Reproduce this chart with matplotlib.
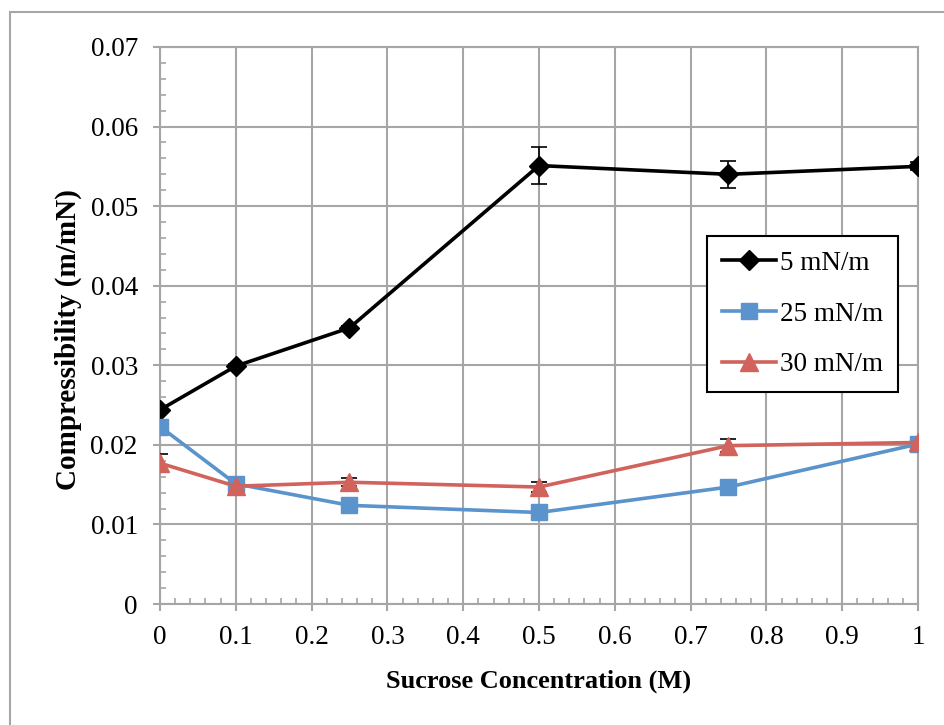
import numpy as np
from matplotlib import pyplot as plt
from matplotlib.patches import Rectangle
from matplotlib.lines import Line2D
from matplotlib.ticker import MultipleLocator

# sucrose concentration (M)
conc = [0, 0.1, 0.25, 0.5, 0.75, 1]

# compressibility (m/mN) at each surface pressure
comp_5 = [0.0244, 0.0299, 0.0347, 0.0551, 0.0540, 0.0550]
err_5 = [0.0003, 0.0003, 0.0003, 0.0023, 0.0017, 0.0005]
comp_25 = [0.0223, 0.0151, 0.0124, 0.0115, 0.0147, 0.0201]
err_25 = [0.0002, 0.0002, 0.0002, 0.0002, 0.0002, 0.0002]
comp_30 = [0.0177, 0.0148, 0.0153, 0.0147, 0.0199, 0.0203]
err_30 = [0.0011, 0.0002, 0.0005, 0.0006, 0.0008, 0.0002]

labels = ['5 mN/m', '25 mN/m', '30 mN/m']
xticklabels = ['0', '0.1', '0.2', '0.3', '0.4', '0.5', '0.6', '0.7', '0.8', '0.9', '1']
yticklabels = ['0', '0.01', '0.02', '0.03', '0.04', '0.05', '0.06', '0.07']

plt.rcParams['font.family'] = ['Liberation Serif', 'DejaVu Serif']

fig = plt.figure(figsize=(9.45, 7.25), dpi=100)
ax = fig.add_axes([160/945, 1 - 604/725, 758/945, 557/725])

# chart frame
fig.patches.append(Rectangle((10/945, -0.1), 1.2, 1 - 12/725 + 0.1,
                             transform=fig.transFigure, fill=False,
                             ec='#a6a6a6', lw=1.5))

series = [
    (comp_5, err_5, 'black', 'D', 10.5),
    (comp_25, err_25, '#5b93cc', 's', 12),
    (comp_30, err_30, '#d2625c', '^', 13),
]
handles = []
for (y, e, c, m, ms), lab in zip(series, labels):
    ax.errorbar(conc, y, yerr=e, color=c, marker=m, markersize=ms, lw=2.6,
                ecolor='black', elinewidth=1.2, capsize=6, capthick=1.2,
                zorder=3)
    handles.append(Line2D([], [], color=c, marker=m, markersize=ms, lw=2.6, label=lab))

ax.set_xlim(0, 1)
ax.set_ylim(0, 0.07)
ax.xaxis.set_minor_locator(MultipleLocator(0.02))
ax.yaxis.set_minor_locator(MultipleLocator(0.002))
ax.set_xticks(np.arange(0, 1.01, 0.1))
ax.set_xticklabels(xticklabels)
ax.set_yticks(np.arange(0, 0.071, 0.01))
ax.set_yticklabels(yticklabels)

ax.grid(which='major', color='#a6a6a6', lw=1.5)
for s in ax.spines.values():
    s.set_color('#a6a6a6')
    s.set_linewidth(1.5)
ax.tick_params(which='major', direction='out', length=5, width=1.5,
               color='#a6a6a6', labelsize=19.5)
ax.tick_params(which='minor', direction='in', length=4.5, width=1.2, color='#a6a6a6')
ax.tick_params(axis='y', pad=11)
ax.tick_params(axis='x', pad=10)

ax.set_xlabel('Sucrose Concentration (M)', fontsize=19, fontweight='bold', va='center')
ax.xaxis.set_label_coords(0.5, -0.138)
ax.set_ylabel('Compressibility (m/mN)', fontsize=21, fontweight='bold', va='center')
ax.yaxis.set_label_coords(-0.1214, 0.474)

leg = ax.legend(handles=handles, loc='upper left', bbox_to_anchor=(0.7216, 0.6607),
                fontsize=19.5, frameon=True, fancybox=False, edgecolor='black',
                framealpha=1, borderpad=0.55, labelspacing=0.95, handlelength=2.0,
                handletextpad=0.15, borderaxespad=0)
leg.get_frame().set_linewidth(1.5)

fig.savefig('out.png', dpi=100)
